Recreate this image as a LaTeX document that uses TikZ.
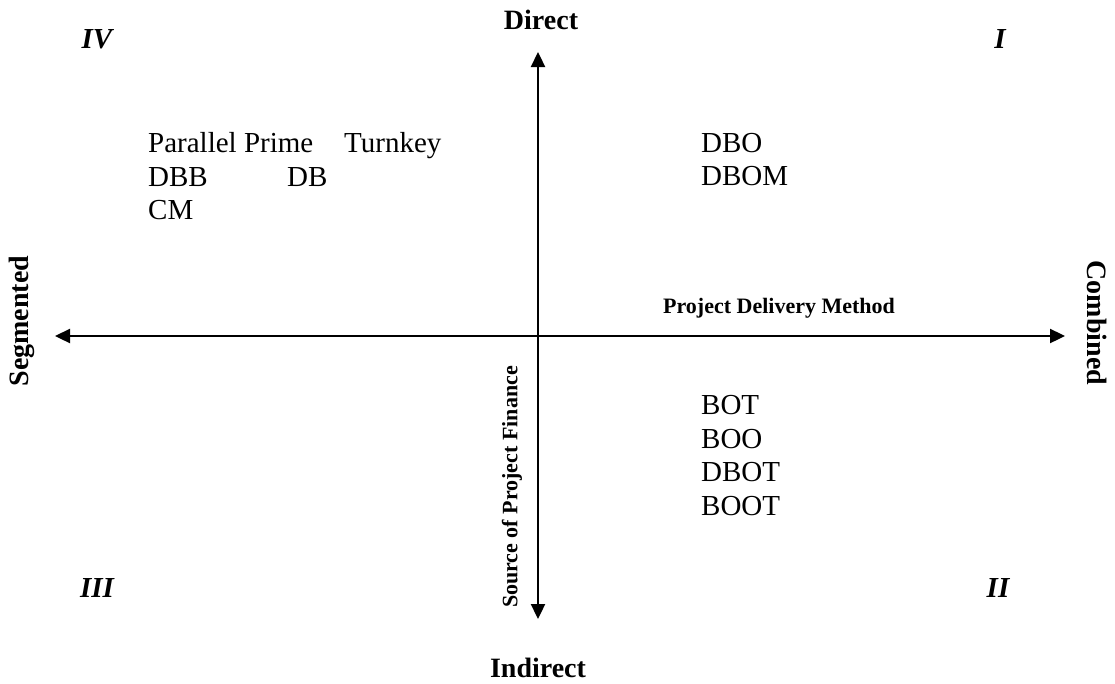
\documentclass[tikz,border=0pt]{standalone}
\usepackage{fontspec}
\setmainfont{Liberation Serif}
\usetikzlibrary{arrows.meta}
\begin{document}
\begin{tikzpicture}[x=1pt,y=-1pt,
  axis/.style={line width=2.3pt,{Triangle[length=15pt,width=14pt]}-{Triangle[length=15pt,width=14pt]}},
  item/.style={anchor=base west,inner sep=0pt,font=\fontsize{29}{33}\selectfont},
  quad/.style={anchor=base,inner sep=0pt,font=\fontsize{29}{33}\selectfont\bfseries\itshape},
  pole/.style={inner sep=0pt,font=\fontsize{28}{32}\selectfont\bfseries},
  axislabel/.style={inner sep=0pt,font=\fontsize{22}{26}\selectfont\bfseries}]
\path[use as bounding box] (0,0) rectangle (1115,683);

% axis end points
\coordinate (west) at (55,336);
\coordinate (east) at (1065,336);
\coordinate (north) at (538,52);
\coordinate (south) at (538,619);

\draw[axis] (west) -- (east);
\draw[axis] (north) -- (south);

% poles of the two axes
\node[pole,anchor=base] (direct) at (541,29) {Direct};
\node[pole,anchor=base] (indirect) at (538,677) {Indirect};
\node[pole,rotate=90] (segmented) at (22,321) {Segmented};
\node[pole,rotate=-90] (combined) at (1097,323) {Combined};

% axis titles
\node[axislabel] (pdm) at (779,308) {Project Delivery Method};
\node[axislabel,rotate=90] (spf) at (512,487) {Source of Project Finance};

% quadrant numerals
\node[quad] (q4) at (97,48) {IV};
\node[quad] (q1) at (1000,48) {I};
\node[quad] (q3) at (97,597) {III};
\node[quad] (q2) at (998,597) {II};

% quadrant IV
\node[item] (pp) at (148,152) {Parallel Prime};
\node[item] (tk) at (344,152) {Turnkey};
\node[item] (dbb) at (148,186) {DBB};
\node[item] (db) at (287,186) {DB};
\node[item] (cm) at (148,219) {CM};

% quadrant I
\node[item] (dbo) at (701,152) {DBO};
\node[item] (dbom) at (701,185) {DBOM};

% quadrant II
\node[item] (bot) at (701,414) {BOT};
\node[item] (boo) at (701,448) {BOO};
\node[item] (dbot) at (701,481) {DBOT};
\node[item] (boot) at (701,515) {BOOT};
\end{tikzpicture}
\end{document}
